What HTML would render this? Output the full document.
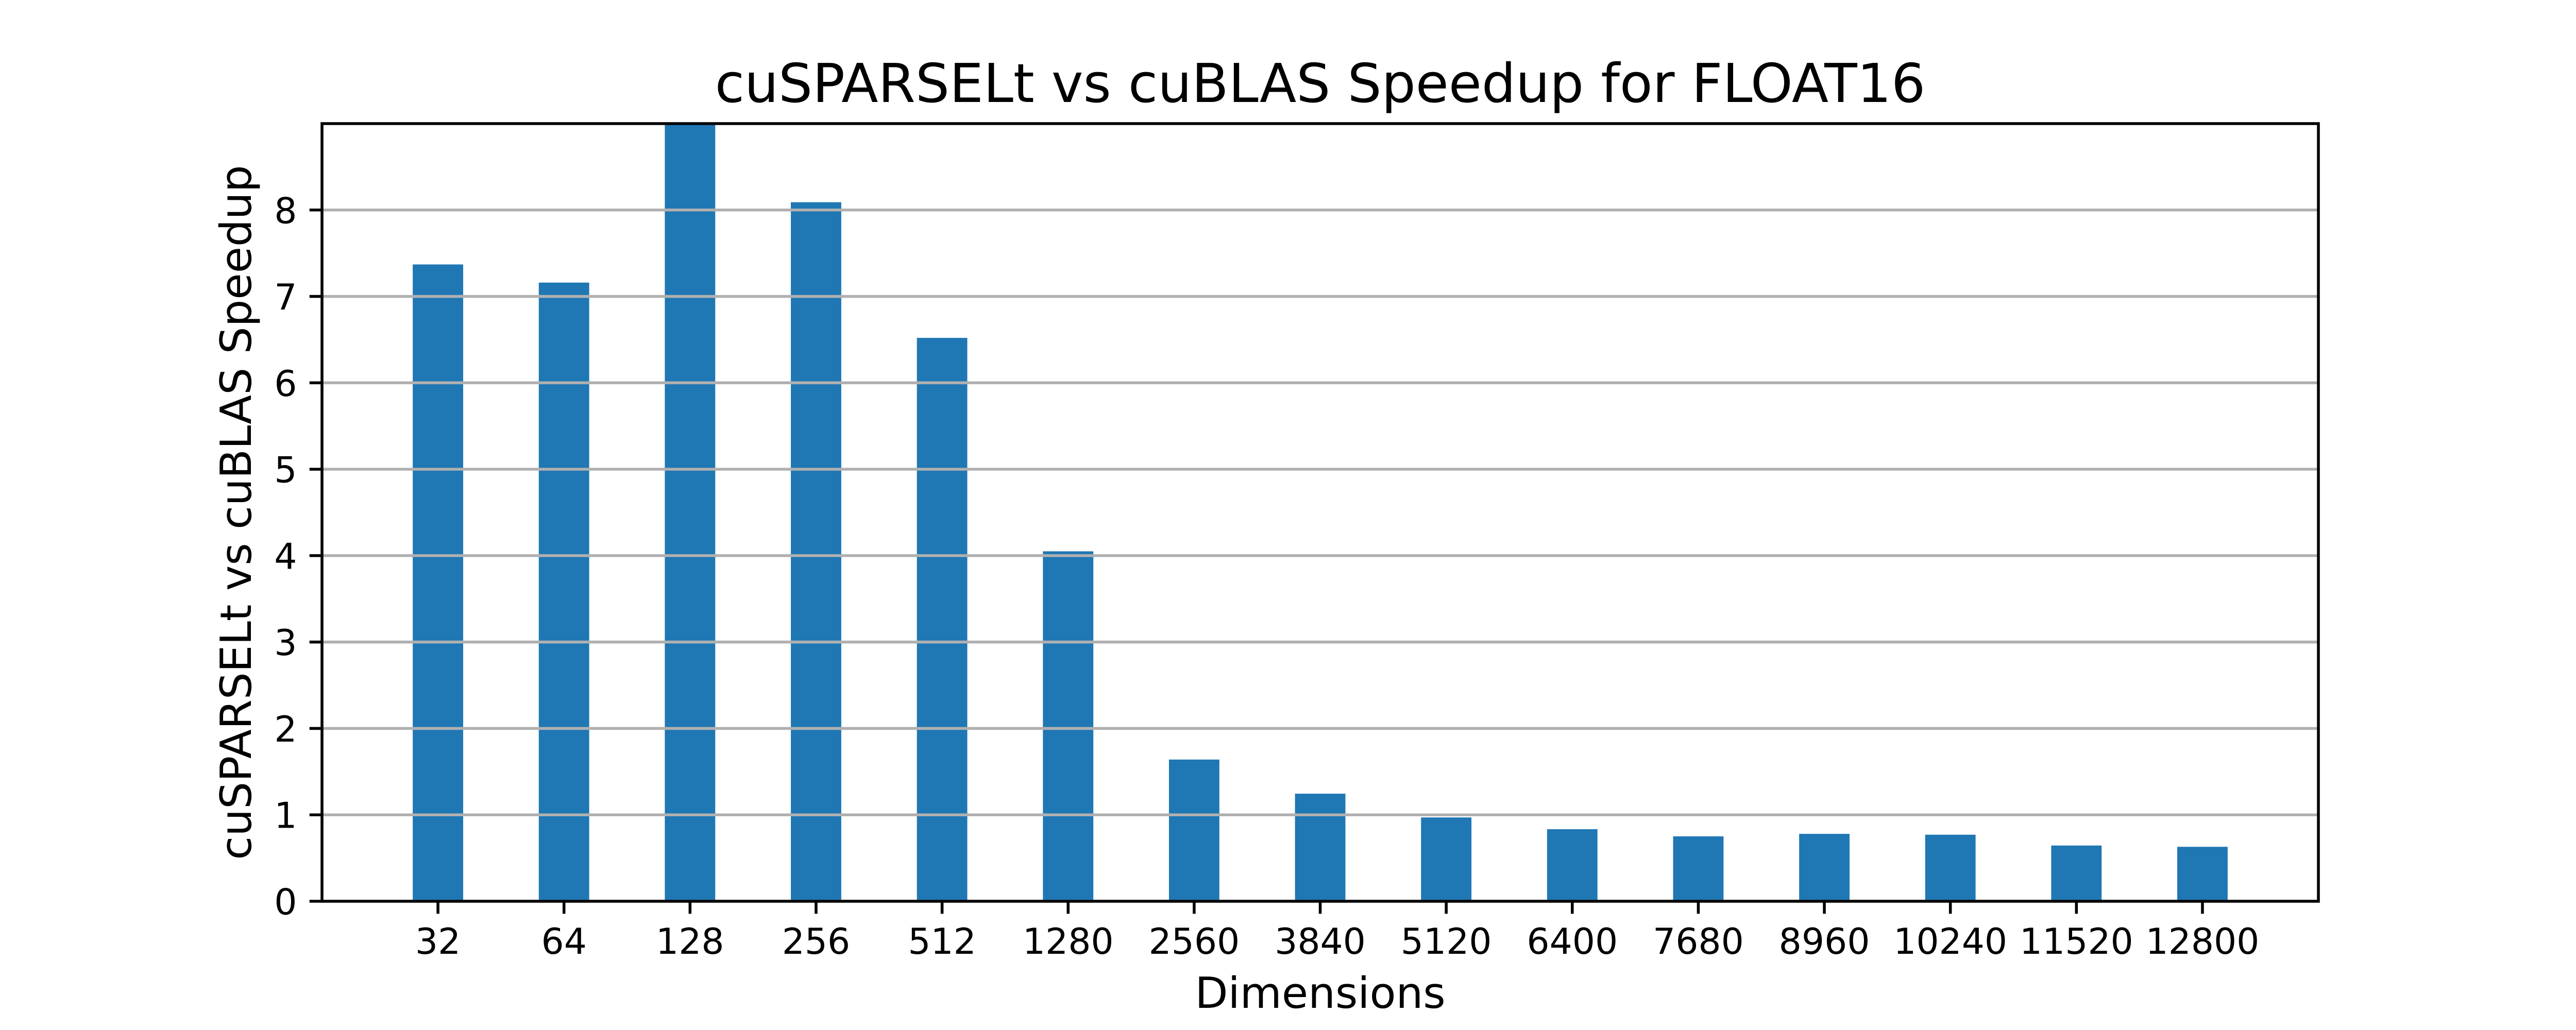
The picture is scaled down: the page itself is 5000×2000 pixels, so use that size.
<!DOCTYPE html>
<html>
<head>
<meta charset="utf-8">
<title>cuSPARSELt vs cuBLAS Speedup for FLOAT16</title>
<style>
html,body{margin:0;padding:0;background:#fff;width:5000px;height:2000px;overflow:hidden}
svg{display:block}
text{font-family:"DejaVu Sans",sans-serif;fill:#000;text-rendering:geometricPrecision}
</style>
</head>
<body>
<svg id="chart" xmlns="http://www.w3.org/2000/svg" width="5000" height="2000" viewBox="0 0 5000 2000">
  <rect x="0" y="0" width="5000" height="2000" fill="#ffffff"/>
  <text x="2562.5" y="198" font-size="104.17" text-anchor="middle">cuSPARSELt vs cuBLAS Speedup for FLOAT16</text>
  <text x="2562.5" y="1957" font-size="83.33" text-anchor="middle">Dimensions</text>
  <text transform="translate(487,995) rotate(-90)" font-size="83.33" text-anchor="middle">cuSPARSELt vs cuBLAS Speedup</text>
</svg>
<script>
const categories = ["32","64","128","256","512","1280","2560","3840","5120","6400","7680","8960","10240","11520","12800"];
const speedup = [7.37,7.16,9.0,8.09,6.52,4.05,1.64,1.245,0.97,0.834,0.751,0.78,0.77,0.645,0.63];
const yTicks = [0,1,2,3,4,5,6,7,8];

const NS = "http://www.w3.org/2000/svg";
const svg = document.getElementById("chart");
const plot = {left:625,right:4500,top:240,bottom:1750};
const yMax = 9, barWidth = 0.4;
const xMin = -barWidth/2 - 0.05*(categories.length-1+barWidth);
const xMax = categories.length-1+barWidth/2 + 0.05*(categories.length-1+barWidth);
function xScale(i){return plot.left+(i-xMin)/(xMax-xMin)*(plot.right-plot.left);}
function yScale(v){return plot.bottom-v/yMax*(plot.bottom-plot.top);}
function make(tag,attrs){const el=document.createElementNS(NS,tag);for(const k in attrs)el.setAttribute(k,attrs[k]);return el;}
const clipDefs=make("defs",{});
const clip=make("clipPath",{id:"plot-clip"});
clip.appendChild(make("rect",{x:plot.left,y:plot.top,width:plot.right-plot.left,height:plot.bottom-plot.top}));
clipDefs.appendChild(clip);svg.appendChild(clipDefs);

categories.forEach(function(c,i){
  const top=yScale(speedup[i]);
  const w=xScale(barWidth)-xScale(0);
  const r=make("rect",{x:xScale(i)-w/2,y:top,width:w,height:plot.bottom-top,fill:"#1f77b4","clip-path":"url(#plot-clip)"});
  
  
  svg.appendChild(r);
});
yTicks.forEach(function(t){
  const y=yScale(t);
  const g=make("line",{x1:plot.left,x2:plot.right,y1:y,y2:y,stroke:"#b0b0b0","stroke-width":5.55});
  
  
  svg.appendChild(g);
  const m=make("line",{x1:plot.left-24.3,x2:plot.left,y1:y,y2:y,stroke:"#000","stroke-width":5.55});
  
  
  svg.appendChild(m);
  const l=make("text",{x:plot.left-48.6,y:y+25.5,"font-size":69.44,"text-anchor":"end"});
  l.textContent=String(t);
  
  
  svg.appendChild(l);
});
categories.forEach(function(c,i){
  const x=xScale(i);
  const m=make("line",{x1:x,x2:x,y1:plot.bottom,y2:plot.bottom+24.3,stroke:"#000","stroke-width":5.55});
  
  
  svg.appendChild(m);
  const l=make("text",{x:x,y:1852,"font-size":69.44,"text-anchor":"middle"});
  l.textContent=c;
  
  
  svg.appendChild(l);
});
const frame=make("rect",{x:plot.left,y:plot.top,width:plot.right-plot.left,height:plot.bottom-plot.top,fill:"none",stroke:"#000","stroke-width":5.55,"stroke-linecap":"square"});


svg.appendChild(frame);
</script>
</body>
</html>
